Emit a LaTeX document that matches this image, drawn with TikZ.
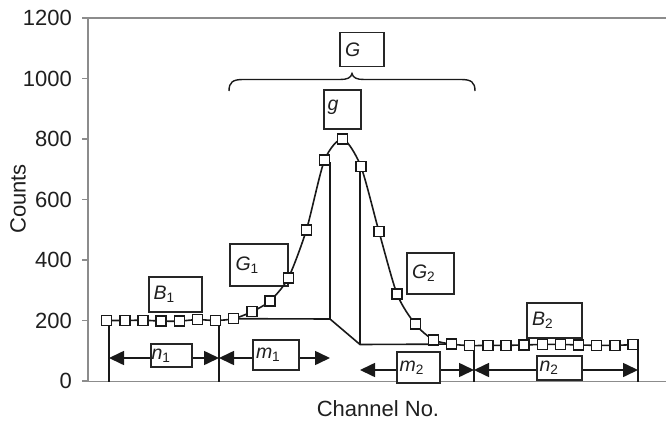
\documentclass[tikz,border=0pt]{standalone}
\usepackage{fontspec}
\setmainfont{Liberation Sans}
\usetikzlibrary{arrows.meta}
\begin{document}
\begin{tikzpicture}[x=1pt,y=-1pt,
  axisline/.style={draw=black!45, line width=1.4pt},
  ink/.style={draw=black!90, line width=1.6pt},
  mk/.style={draw=black!90, fill=white, line width=1.4pt, minimum size=10pt, inner sep=0pt, rectangle},
  lbox/.style 2 args={draw=black!85, fill=white, line width=1.4pt, inner sep=0pt,
     minimum width=#1pt, minimum height=#2pt},
  ltext/.style={anchor=west, inner sep=0pt, font=\fontsize{19.5}{19.5}\selectfont\itshape, text=black!88},
  dimarrow/.style={ink, {Triangle[length=15pt,width=14pt]}-{Triangle[length=15pt,width=14pt]}},
  ticklab/.style={font=\fontsize{22}{22}\selectfont, anchor=east, inner sep=0pt, text=black!88},
  axlab/.style={font=\fontsize{22}{22}\selectfont, inner sep=0pt, text=black!88},
]
\useasboundingbox (0,0) rectangle (666,420);

% axes
\coordinate (o) at (88,381.5);
\coordinate (ytop) at (88,18);
\coordinate (xend) at (666,381.5);
\coordinate (topend) at (666,18);
\draw[axisline] (ytop) -- (o) -- (xend);
\draw[axisline] (ytop) -- (topend);
\foreach \k/\lab in {0/0,1/200,2/400,3/600,4/800,5/1000,6/1200}{
  \coordinate (t\k) at (88,381-60.5*\k);
  \coordinate (tl\k) at (82,381-60.5*\k);
  \draw[axisline] (tl\k) -- (t\k);
  \node[ticklab] (lab\k) at (72,381-60.5*\k) {\lab};
}
\node[axlab, rotate=90] (ylab) at (18,199) {Counts};
\node[axlab] (xlab) at (378,409) {Channel No.};

% data coordinates
\foreach \i/\v in {0/200,1/200,2/201,3/198,4/198,5/203,6/200,7/206,8/229,9/265,
  10/340,11/499,12/730,13/800,14/710,15/494,16/287,17/188,18/136,19/122,
  20/117,21/118,22/118,23/119,24/121,25/121,26/119,27/118,28/118,29/120}{
  \coordinate (p\i) at (106.7+18.15*\i, 381-0.3025*\v);
}

% dimension verticals
\coordinate (v1t) at (109,321);   \coordinate (v1b) at (109,381.5);
\coordinate (v2t) at (219,321);   \coordinate (v2b) at (219,381.5);
\coordinate (v3t) at (474,345);   \coordinate (v3b) at (474,381.5);
\coordinate (v4t) at (638,345);   \coordinate (v4b) at (638,381.5);
\draw[ink] (v1t) -- (v1b);
\draw[ink] (v2t) -- (v2b);
\draw[ink] (v3t) -- (v3b);
\draw[ink] (v4t) -- (v4b);

% dimension arrows
\coordinate (a1) at (109,358);  \coordinate (a2) at (219,358); \coordinate (a3) at (330,358);
\coordinate (b1) at (360,370);  \coordinate (b2) at (474,370); \coordinate (b3) at (638,370);
\draw[dimarrow] (a1) -- (a2);
\draw[dimarrow] (a2) -- (a3);
\draw[dimarrow] (b1) -- (b2);
\draw[dimarrow] (b2) -- (b3);

% peak area division lines
\coordinate (k1t) at (330,162);
\coordinate (k1) at (330,319);
\coordinate (k2t) at (360,168);
\coordinate (k2) at (360,344.5);
\draw[ink] (p7) -- (k1) -- (k2) -- (p19);
\draw[ink] (k1t) -- (k1);
\draw[ink] (k2t) -- (k2);

% labels: boxes
\node[lbox={53}{35}] (B1) at (175.5,294.5) {};
\node[lbox={58}{42}] (G1) at (259,265) {};
\node[lbox={44}{34}] (G) at (362,49.7) {};
\node[lbox={37}{39}] (g) at (342.5,109.5) {};
\node[lbox={47}{41}] (G2) at (430.5,273.5) {};
\node[lbox={55}{35}] (B2) at (554.5,320.5) {};
\node[lbox={41}{23}] (n1) at (171.5,355.5) {};
\node[lbox={46}{30}] (m1) at (276,355) {};
\node[lbox={43}{31}] (m2) at (418.5,367.5) {};
\node[lbox={45}{24}] (n2) at (559.5,368) {};
% labels: texts
\node[ltext] (tB1) at ([xshift=5pt]B1.west) {B\textsubscript{\upshape 1}};
\node[ltext] (tG1) at ([xshift=6pt]G1.west) {G\textsubscript{\upshape 1}};
\node[ltext] (tG) at ([xshift=5.5pt]G.west) {G};
\node[ltext] (tg) at ([xshift=4pt,yshift=2pt]g.west) {g};
\node[ltext] (tG2) at ([xshift=5.5pt]G2.west) {G\textsubscript{\upshape 2}};
\node[ltext] (tB2) at ([xshift=5.5pt]B2.west) {B\textsubscript{\upshape 2}};
\node[ltext] (tn1) at ([xshift=1pt]n1.west) {n\textsubscript{\upshape 1}};
\node[ltext] (tm1) at ([xshift=3.5pt]m1.west) {m\textsubscript{\upshape 1}};
\node[ltext] (tm2) at ([xshift=3pt]m2.west) {m\textsubscript{\upshape 2}};
\node[ltext] (tn2) at ([xshift=3pt]n2.west) {n\textsubscript{\upshape 2}};

% brace
\coordinate (brL) at (229,91);
\coordinate (brR) at (475,91);
\coordinate (brT) at (352,73.5);
\draw[ink, line width=1.4pt] (brL) .. controls (229,82) and (233,79.5) .. (243,79.5) -- (340,79.5)
  .. controls (347,79.5) and (351,78) .. (brT) .. controls (353,78) and (357,79.5) .. (364,79.5)
  -- (461,79.5) .. controls (471,79.5) and (475,82) .. (brR);

% data curve
\draw[ink] plot[smooth, tension=0.45] coordinates {(p0) (p1) (p2) (p3) (p4) (p5) (p6) (p7) (p8) (p9)
  (p10) (p11) (p12) (p13) (p14) (p15) (p16) (p17) (p18) (p19)
  (p20) (p21) (p22) (p23) (p24) (p25) (p26) (p27) (p28) (p29)};
\foreach \i in {0,...,29}{
  \node[mk] (q\i) at (p\i) {};
}
\end{tikzpicture}
\end{document}
